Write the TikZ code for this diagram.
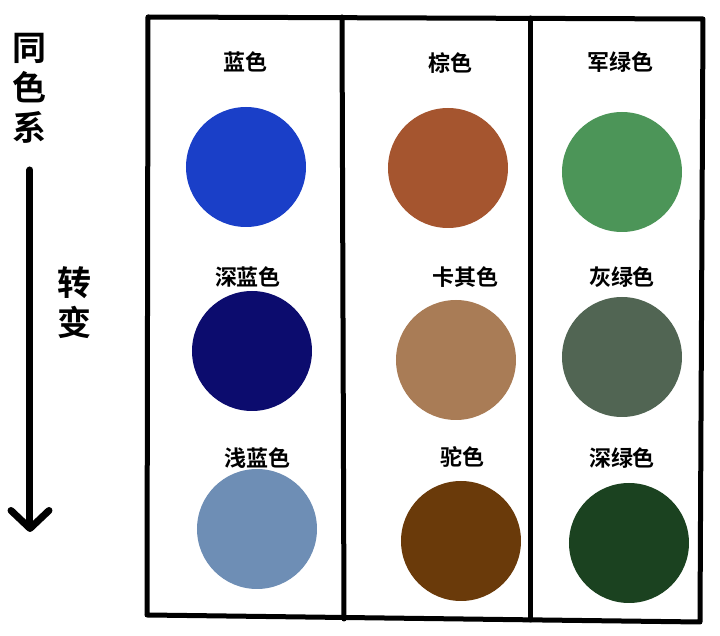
\documentclass[tikz,border=0pt]{standalone}
\usepackage{fontspec}
\setmainfont{Noto Sans CJK SC Bold}
\usetikzlibrary{arrows.meta}
\definecolor{cblue}{HTML}{1A3FC8}
\definecolor{cnavy}{HTML}{0C0C6E}
\definecolor{csky}{HTML}{6E8EB5}
\definecolor{cbrown}{HTML}{A5552F}
\definecolor{ckhaki}{HTML}{A97C56}
\definecolor{ccamel}{HTML}{6A3A0A}
\definecolor{carmy}{HTML}{4C9558}
\definecolor{cgrey}{HTML}{516553}
\definecolor{cdeep}{HTML}{1B4220}

\begin{document}
\begin{tikzpicture}[x=0.5pt, y=-0.5pt,
	dot/.style={circle, minimum size=60pt, inner sep=0pt},
	lbl/.style={font=\fontsize{11}{11}\selectfont, inner sep=0pt},
	big/.style={font=\fontsize{17}{17}\selectfont, inner sep=0pt},
	frame/.style={line width=2.5pt, line cap=round, line join=round}]
	\useasboundingbox (0,0) rectangle (720,636);
	% frame
	\coordinate (tl) at (148,17);
	\coordinate (tr) at (703,19);
	\coordinate (bl) at (147,615);
	\coordinate (br) at (700,622);
	\coordinate (d1t) at (342,17);
	\coordinate (d1b) at (344,619);
	\coordinate (d2t) at (531,18);
	\coordinate (d2b) at (531,620);
	\draw[frame] (bl) -- (tl) -- (tr) -- (br) -- cycle;
	\draw[frame] (d1t) -- (d1b);
	\draw[frame] (d2t) -- (d2b);
	% swatches
	\foreach \name/\col/\x/\y/\txt/\lx/\ly in {
		blue/cblue/246/167/蓝色/246/62,
		navy/cnavy/252/351/深蓝色/248/277,
		sky/csky/257/529/浅蓝色/258/458,
		brown/cbrown/448/168/棕色/451/63,
		khaki/ckhaki/456/360/卡其色/466/277,
		camel/ccamel/461/541/驼色/463/457,
		army/carmy/622/172/军绿色/621/62,
		grey/cgrey/622/357/灰绿色/622/277,
		deep/cdeep/629/543/深绿色/622/458}
	{
		\node[dot, fill=\col] (\name) at (\x,\y) {};
		\node[lbl] (\name-l) at (\lx,\ly) {\txt};
	}
	% left side
	\node[big, align=center] (tong) at (29,88) {同\\[3pt]色\\[3pt]系};
	\node[big, align=center] (zhuan) at (75,303) {转\\[3pt]变};
	\coordinate (arrowtop) at (30,170);
	\coordinate (arrowend) at (30,532);
	\draw[line width=3.5pt, line cap=round,
		-{Straight Barb[length=9pt, width=19pt, round]}] (arrowtop) -- (arrowend);
\end{tikzpicture}
\end{document}
